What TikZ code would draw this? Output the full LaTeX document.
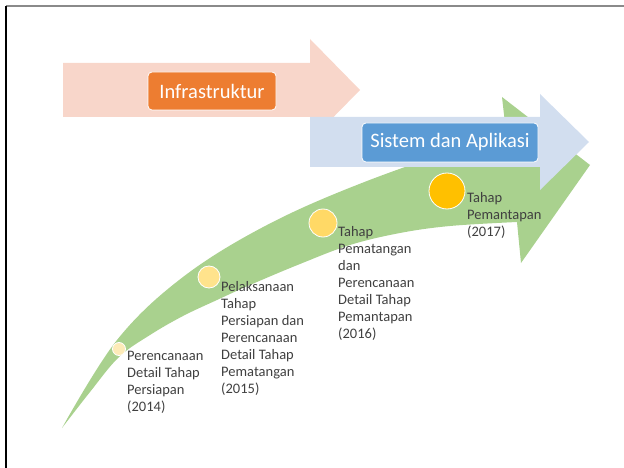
\documentclass[tikz,border=0pt]{standalone}
\usepackage{fontspec}
\setmainfont{Carlito}
\definecolor{frameGray}{HTML}{8A8A8A}
\definecolor{arrowGreen}{HTML}{A9D18E}
\definecolor{arrowPink}{HTML}{F8D6CA}
\definecolor{arrowBlue}{HTML}{D2DEEF}
\definecolor{boxOrange}{HTML}{ED7D31}
\definecolor{boxBlue}{HTML}{5B9BD5}
\definecolor{dotA}{HTML}{FDEBB8}
\definecolor{dotB}{HTML}{FFE38C}
\definecolor{dotC}{HTML}{FFD966}
\definecolor{dotD}{HTML}{FFC000}
\definecolor{labelGray}{HTML}{404040}
\begin{document}
\begin{tikzpicture}[x=1pt,y=-1pt,
  phasebox/.style={rounded corners=4pt, draw=white, line width=0.8pt,
    text=white, inner sep=0pt, font=\fontsize{20.5}{24}\selectfont},
  milestone/.style={circle, draw=white, line width=0.8pt, inner sep=0pt},
  steplabel/.style={anchor=north west, align=left, inner sep=0pt,
    text=labelGray, font=\fontsize{14.5}{17}\selectfont}]
\useasboundingbox (0,0) rectangle (624,468);

% page frame (top and left edges)
\draw[frameGray, line width=2pt] (6,6) -- (624,6);
\draw[black, line width=2pt] (6,6) -- (6,468);

% curved green timeline arrow
\fill[arrowGreen] (62,428)
  -- plot[smooth, tension=0.6] coordinates {(62,428) (117,340) (183,277) (267,225) (367,181) (506,132)}
  -- (502,97) -- (590,165) -- (521,263) -- (517,222)
  -- plot[smooth, tension=0.6] coordinates {(517,222) (450,226) (400,233) (350,245) (300,264) (250,285) (217,300) (183,316) (150,335) (119,357) (90,392) (62,428)}
  -- cycle;

% block arrows
\fill[arrowPink] (63,63) -- (310,63) -- (310,39) -- (360,90) -- (310,141) -- (310,117) -- (63,117) -- cycle;
\node[phasebox, fill=boxOrange, minimum width=128pt, minimum height=38pt] (infra) at (212,91) {Infrastruktur};

\fill[arrowBlue] (310,117) -- (540,117) -- (540,94) -- (589,142) -- (540,190) -- (540,167) -- (310,167) -- cycle;
\node[phasebox, fill=boxBlue, minimum width=176pt, minimum height=39pt] (sistem) at (450,142.5) {Sistem dan Aplikasi};

% milestones
\node[milestone, fill=dotA, minimum size=13pt] (m1) at (119,349) {};
\node[milestone, fill=dotB, minimum size=22pt] (m2) at (209,277) {};
\node[milestone, fill=dotC, minimum size=28pt] (m3) at (323,223) {};
\node[milestone, fill=dotD, minimum size=36pt] (m4) at (447,191) {};

\node[steplabel] (l1) at (127,351) {Perencanaan\\Detail Tahap\\Persiapan\\(2014)};
\node[steplabel] (l2) at (221,281) {Pelaksanaan\\Tahap\\Persiapan dan\\Perencanaan\\Detail Tahap\\Pematangan\\(2015)};
\node[steplabel] (l3) at (338,226) {Tahap\\Pematangan\\dan\\Perencanaan\\Detail Tahap\\Pemantapan\\(2016)};
\node[steplabel] (l4) at (467,192) {Tahap\\Pemantapan\\(2017)};
\end{tikzpicture}
\end{document}
